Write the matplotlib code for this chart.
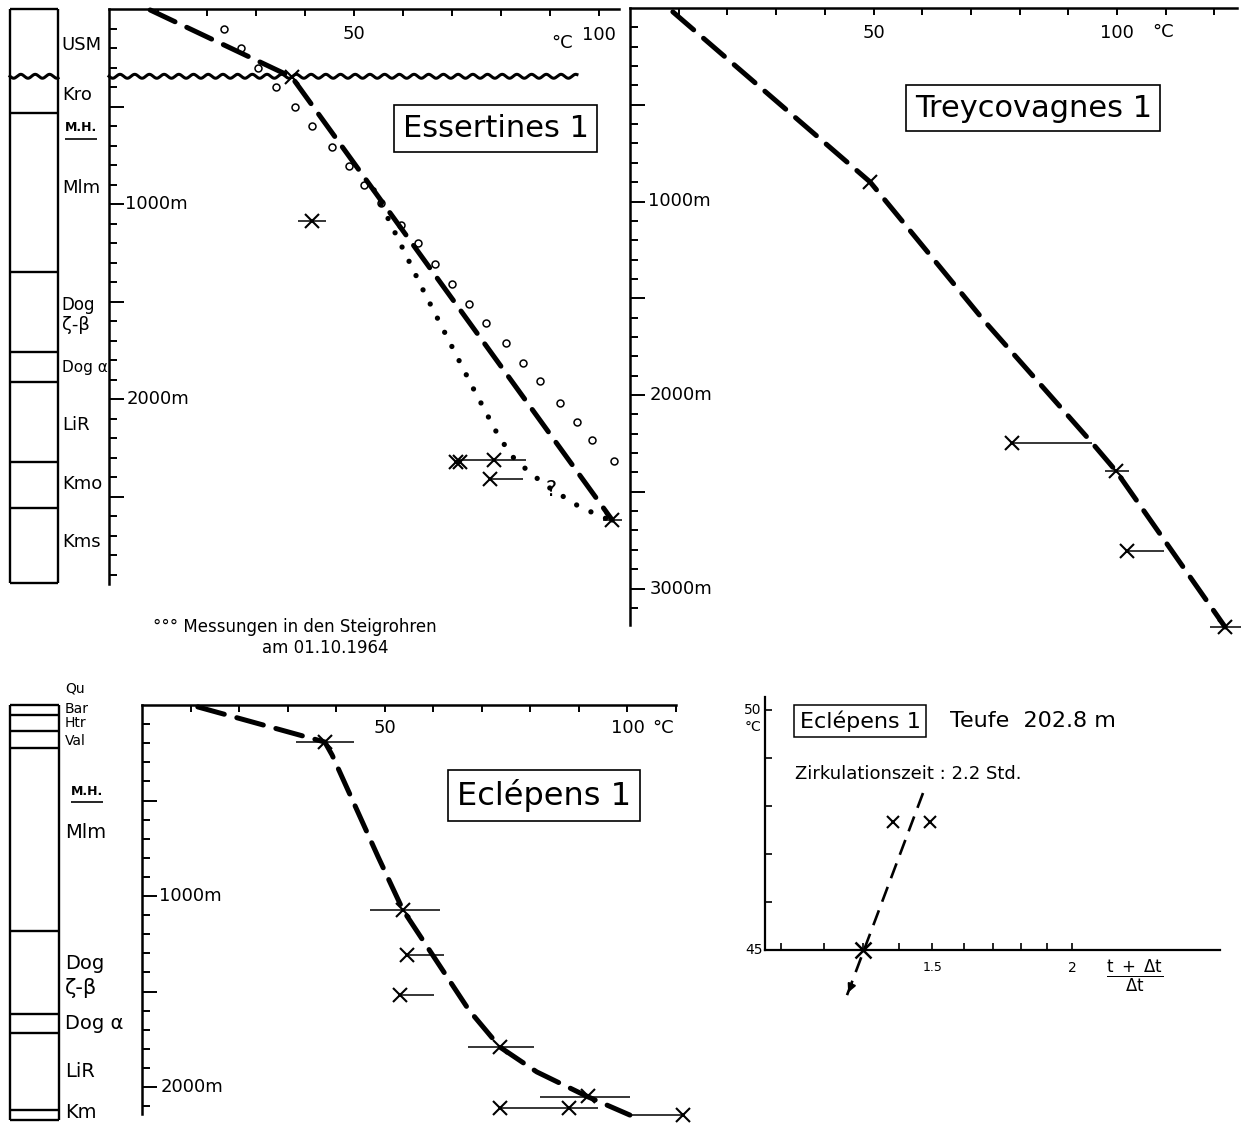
import numpy as np
import matplotlib.pyplot as plt

plt.rcParams['font.family'] = ['DejaVu Sans']
plt.rcParams['mathtext.fontset'] = 'dejavusans'

W, H = 1246, 1126

# ---------------- Essertines 1 ----------------
ess_circ_T = [23.5, 27.0, 30.5, 34.0, 38.0, 41.5, 45.5, 49.0, 52.0, 55.5, 59.5, 63.0,
              66.5, 70.0, 73.5, 77.0, 81.0, 84.5, 88.0, 92.0, 95.5, 98.5, 103.0]
ess_circ_d = [105, 200, 300, 400, 500, 600, 710, 805, 905, 995, 1110, 1200,
              1310, 1410, 1515, 1610, 1715, 1815, 1910, 2020, 2120, 2210, 2320]
ess_dash_T = [8.4, 37.3, 102.7]
ess_dash_d = [5, 349, 2621]
ess_dot_T = [54.1, 64.1, 74.3, 79.6, 82.9, 89.0, 96.1, 102.2]
ess_dot_d = [928, 1441, 1944, 2195, 2313, 2441, 2554, 2621]
ess_x_T = [37.3, 41.4, 70.8, 71.6, 78.6, 77.8, 102.7]
ess_x_d = [349, 1087, 2325, 2325, 2313, 2410, 2621]
ess_bar_d = [1087, 2313, 2410, 2621]
ess_bar_lo = [38.5, 71.2, 77.8, 100.8]
ess_bar_hi = [44.3, 85.1, 84.5, 104.7]
ess_unconf_d = 345
ess_unconf_T = 95.5
ess_col_bottom = 2944
ess_col_bounds = [533, 1349, 1759, 1913, 2323, 2559]
ess_col_labels = ['USM', 'Kro', 'Mlm', 'Dog', 'ζ-β', 'Dog α', 'LiR', 'Kmo', 'Kms']
ess_col_label_d = [185, 441, 918, 1518, 1621, 1836, 2133, 2436, 2733]
ess_col_label_fs = [13, 13, 13, 12, 13, 11, 13, 13, 13]

# ---------------- Treycovagnes 1 ----------------
try_dash_T = [8.8, 49.3, 72.5, 94.9, 99.8, 122.2]
try_dash_d = [20, 899, 1610, 2248, 2393, 3199]
try_x_T = [49.3, 78.4, 99.8, 102.1, 122.2]
try_x_d = [899, 2248, 2393, 2806, 3199]
try_bar_d = [2248, 2393, 2806, 3199]
try_bar_lo = [78.4, 97.5, 102.1, 119.1]
try_bar_hi = [94.9, 102.5, 109.7, 125.5]

# ---------------- Eclepens 1 ----------------
ecl_dash_T = [11.5, 37.7, 39.2, 48.7, 53.8, 60.6, 67.4, 73.8, 81.4, 92.0, 100.6]
ecl_dash_d = [10, 194, 262, 796, 1073, 1335, 1597, 1791, 1921, 2052, 2147]
ecl_x_T = [37.7, 53.8, 54.6, 53.2, 73.8, 92.0, 73.8, 88.0, 111.5]
ecl_x_d = [194, 1073, 1309, 1517, 1791, 2047, 2110, 2110, 2147]
ecl_bar_d = [194, 1073, 1309, 1517, 1791, 2052, 2110, 2147]
ecl_bar_lo = [31.8, 47.0, 54.6, 53.2, 67.2, 82.1, 73.8, 101.0]
ecl_bar_hi = [43.7, 61.4, 62.3, 60.2, 80.8, 100.6, 94.0, 111.5]
ecl_col_bottom = 2173
ecl_col_bounds = [52, 136, 225, 1183, 1618, 1717, 2120]
ecl_col_labels = ['Qu', 'Bar', 'Htr', 'Val', 'Mlm', 'Dog', 'ζ-β', 'Dog α', 'LiR', 'Km']
ecl_col_label_d = [-89, 21, 94, 188, 670, 1351, 1482, 1665, 1921, 2136]
ecl_col_label_fs = [10, 10, 10, 10, 14, 14, 15, 14, 14, 14]

# ---------------- Horner plot (Eclepens 1, 202.8 m) ----------------
hor_x = [1.384, 1.493]
hor_T = [47.67, 47.67]
hor_fit_x = [1.472, 1.259]
hor_fit_T = [48.27, 44.06]
hor_extrap_x = 1.30
hor_extrap_T = 45.0


def px_axes(x0, x1, y0, y1):
    return fig.add_axes([x0 / W, 1 - y1 / H, (x1 - x0) / W, (y1 - y0) / H])


def frame(ax, t_ticks, d_max):
    for s in ['right', 'bottom']:
        ax.spines[s].set_visible(False)
    for s in ['left', 'top']:
        ax.spines[s].set_linewidth(1.8)
    ax.xaxis.set_ticks_position('top')
    ax.set_xticks(t_ticks)
    ax.set_yticks(np.arange(500, d_max, 500))
    ax.set_yticks(np.arange(100, d_max, 100), minor=True)
    ax.tick_params(axis='x', direction='in', length=5, width=1.4,
                   labeltop=False, labelbottom=False)
    ax.tick_params(axis='y', which='major', direction='in', length=11,
                   width=1.4, labelleft=False)
    ax.tick_params(axis='y', which='minor', direction='in', length=5.5, width=1.4)
    ax.patch.set_visible(False)


def column(ax, bottom, bounds, labels, label_d, fs, x_lab):
    ax.set_xlim(0, 1)
    ax.axis('off')
    ax.vlines([0, 1], 0, bottom, color='k', lw=1.7, clip_on=False)
    ax.hlines([0, bottom] + bounds, 0, 1, color='k', lw=1.7, clip_on=False)
    for lab, d, f in zip(labels, label_d, fs):
        ax.text(x_lab, d, lab, ha='left', va='center', fontsize=f, clip_on=False)


def mh_label(ax, x, d, under):
    # "M.H." with its underline
    ax.text(x, d, 'M.H.', fontsize=9, fontweight='bold', ha='center',
            va='center', clip_on=False)
    ax.hlines(d + under, x - 0.33, x + 0.33, color='k', lw=1.2, clip_on=False)


def wavy(ax, x0, x1, d, wavelength, amp):
    xs = np.linspace(x0, x1, 600)
    ax.plot(xs, d + amp * np.sin(2 * np.pi * (xs - x0) / wavelength),
            color='k', lw=2.2, clip_on=False, zorder=3)


dash_kw = dict(color='k', lw=3.6, linestyle=(0, (5.5, 2.6)), dash_capstyle='round',
               clip_on=False, zorder=3)
x_kw = dict(ls='none', marker='x', color='k', ms=10, mew=1.5, clip_on=False, zorder=4)
box_kw = dict(boxstyle='square,pad=0.28', fc='white', ec='k', lw=1.2)

fig = plt.figure(figsize=(W / 100, H / 100), dpi=100)

# ===== Essertines 1 =====
ax1 = px_axes(109, 109 + 104 * 4.9, 9, 9 + 2950 * 0.195)
ax1.set_xlim(0, 104)
ax1.set_ylim(2950, 0)
frame(ax1, np.arange(10, 101, 10), 2950)
ax1.plot(ess_dash_T, ess_dash_d, **dash_kw)
ax1.plot(ess_dot_T, ess_dot_d, color='k', lw=3.8, linestyle=(0, (0.01, 3.0)),
         dash_capstyle='round', clip_on=False, zorder=3)
ax1.plot(ess_circ_T, ess_circ_d, ls='none', marker='o', ms=5, mfc='white',
         mec='k', mew=1.1, clip_on=False)
ax1.hlines(ess_bar_d, ess_bar_lo, ess_bar_hi, color='k', lw=1.1, clip_on=False)
ax1.plot(ess_x_T, ess_x_d, **x_kw)
wavy(ax1, 0, ess_unconf_T, ess_unconf_d, 3.0, 10)
ax1.text(90.2, 2467, '?', fontsize=15, ha='center', va='center')
ax1.text(78.9, 613, 'Essertines 1', fontsize=22, ha='center', va='center', bbox=box_kw)
ax1.text(50, 128, '50', fontsize=13, ha='center', va='center')
ax1.text(100, 133, '100', fontsize=13, ha='center', va='center')
ax1.text(92.4, 175, '°C', fontsize=13, ha='center', va='center')
ax1.text(3.2, 1000, '1000m', fontsize=13, ha='left', va='center')
ax1.text(3.6, 2000, '2000m', fontsize=13, ha='left', va='center')
ax1.text(9.0, 3169, '°°° Messungen in den Steigrohren', fontsize=12,
         ha='left', va='center')
ax1.text(44.1, 3277, 'am 01.10.1964', fontsize=12, ha='center', va='center')

col1 = px_axes(10, 58, 9, 9 + 2950 * 0.195)
col1.set_ylim(2950, 0)
column(col1, ess_col_bottom, ess_col_bounds, ess_col_labels, ess_col_label_d,
       ess_col_label_fs, 1.08)
wavy(col1, 0, 1, ess_unconf_d, 0.3, 10)
mh_label(col1, 1.48, 610, 55)

# ===== Treycovagnes 1 =====
ax2 = px_axes(630, 630 + 124.6 * 4.87, 8, 8 + 3190 * 0.1935)
ax2.set_xlim(0, 124.6)
ax2.set_ylim(3190, 0)
frame(ax2, np.arange(10, 121, 10), 3190)
ax2.plot(try_dash_T, try_dash_d, **dash_kw)
ax2.hlines(try_bar_d, try_bar_lo, try_bar_hi, color='k', lw=1.1, clip_on=False)
ax2.plot(try_x_T, try_x_d, **x_kw)
ax2.text(82.8, 517, 'Treycovagnes 1', fontsize=22, ha='center', va='center', bbox=box_kw)
ax2.text(50, 129, '50', fontsize=13, ha='center', va='center')
ax2.text(100, 129, '100', fontsize=13, ha='center', va='center')
ax2.text(109.4, 125, '°C', fontsize=13, ha='center', va='center')
ax2.text(3.6, 1000, '1000m', fontsize=13, ha='left', va='center')
ax2.text(4.0, 2000, '2000m', fontsize=13, ha='left', va='center')
ax2.text(4.0, 3000, '3000m', fontsize=13, ha='left', va='center')

# ===== Eclepens 1 =====
ax3 = px_axes(142, 142 + 110 * 4.85, 705, 705 + 2140 * 0.191)
ax3.set_xlim(0, 110)
ax3.set_ylim(2140, 0)
frame(ax3, np.arange(10, 111, 10), 2140)
ax3.plot(ecl_dash_T, ecl_dash_d, **dash_kw)
ax3.hlines(ecl_bar_d, ecl_bar_lo, ecl_bar_hi, color='k', lw=1.1, clip_on=False)
ax3.plot(ecl_x_T, ecl_x_d, **x_kw)
ax3.text(82.9, 476, 'Eclépens 1', fontsize=23, ha='center', va='center', bbox=box_kw)
ax3.text(50, 118, '50', fontsize=13, ha='center', va='center')
ax3.text(100.2, 118, '100', fontsize=13, ha='center', va='center')
ax3.text(107.4, 118, '°C', fontsize=13, ha='center', va='center')
ax3.text(3.5, 1000, '1000m', fontsize=13, ha='left', va='center')
ax3.text(3.8, 2000, '2000m', fontsize=13, ha='left', va='center')

col3 = px_axes(10, 59, 705, 705 + 2140 * 0.191)
col3.set_ylim(2140, 0)
column(col3, ecl_col_bottom, ecl_col_bounds, ecl_col_labels, ecl_col_label_d,
       ecl_col_label_fs, 1.12)
mh_label(col3, 1.57, 455, 55)

# ===== Horner plot =====
ax4 = px_axes(765, 1220, 697, 950)
ax4.set_xscale('log')
ax4.set_xlim(1.0636, 2.711)
ax4.set_ylim(45, 50.27)
for s in ['right', 'top']:
    ax4.spines[s].set_visible(False)
for s in ['left', 'bottom']:
    ax4.spines[s].set_linewidth(1.6)
ax4.set_xticks(np.round(np.arange(1.1, 2.01, 0.1), 1))
ax4.set_xticks([], minor=True)
ax4.set_yticks(np.arange(45, 51, 1))
ax4.tick_params(axis='both', direction='in', length=5, width=1.2,
                labelleft=False, labelbottom=False)
ax4.tick_params(axis='x', which='minor', length=0)
ax4.patch.set_visible(False)
ax4.plot(hor_fit_x, hor_fit_T, color='k', lw=1.9, linestyle=(0, (6, 3.5)),
         clip_on=False)
ax4.annotate('', xy=(hor_fit_x[1], hor_fit_T[1]), xytext=(1.275, 44.35),
             arrowprops=dict(arrowstyle='-|>', color='k', lw=1.5,
                             mutation_scale=12), annotation_clip=False)
ax4.plot(hor_x, hor_T, ls='none', marker='x', color='k', ms=9, mew=1.5)
ax4.plot([hor_extrap_x], [hor_extrap_T], ls='none', marker='x', color='k', ms=11,
         mew=1.8, clip_on=False)
ax4.text(1.293, 49.77, 'Eclépens 1', fontsize=16, ha='center', va='center',
         bbox=dict(boxstyle='square,pad=0.25', fc='white', ec='k', lw=1.1))
ax4.text(1.556, 49.77, 'Teufe  202.8 m', fontsize=16, ha='left', va='center')
ax4.text(1.131, 48.67, 'Zirkulationszeit : 2.2 Std.', fontsize=13, ha='left',
         va='center')
ax4.text(1.5, 44.63, '1.5', fontsize=9, ha='center', va='center')
ax4.text(2.0, 44.63, '2', fontsize=10, ha='center', va='center')
ax4.text(2.276, 44.45, r'$\frac{\mathrm{t\ +\ \Delta t}}{\mathrm{\Delta t}}$',
         fontsize=17, ha='center', va='center')
ax4.text(1.055, 50.0, '50', fontsize=10, ha='right', va='center')
ax4.text(1.055, 49.65, '°C', fontsize=10, ha='right', va='center')
ax4.text(1.058, 45.0, '45', fontsize=10, ha='right', va='center')

fig.savefig('out.png', dpi=100)
